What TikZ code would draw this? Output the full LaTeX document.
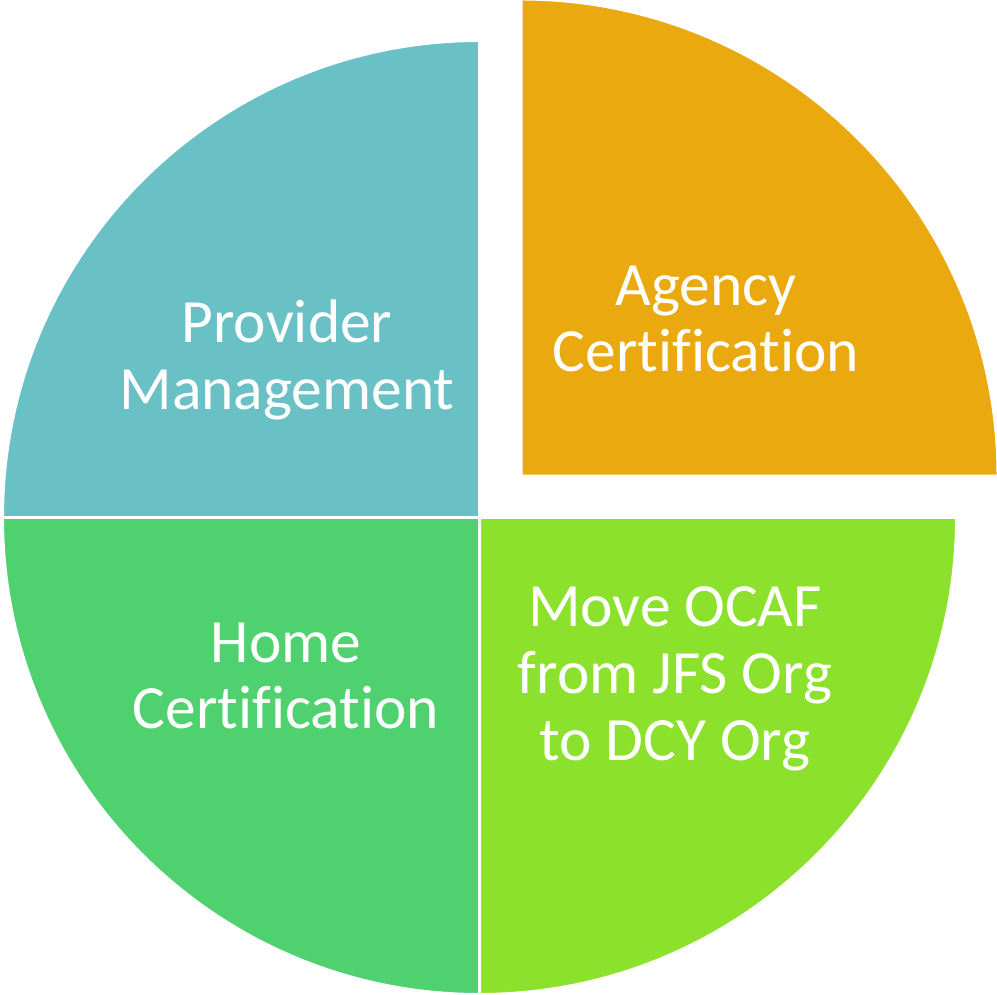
\documentclass[tikz,border=0pt]{standalone}
\usepackage{fontspec}
\setmainfont[Ligatures=NoCommon]{Carlito}
\usetikzlibrary{positioning}

\definecolor{pieteal}{HTML}{69C1C5}
\definecolor{pieorange}{HTML}{E9A90F}
\definecolor{pielime}{HTML}{8CE12D}
\definecolor{piegreen}{HTML}{4ED16E}

\begin{document}
\begin{tikzpicture}[x=0.02cm, y=0.02cm,
    slice/.style={draw=white, line width=1.7pt, line join=miter},
    label/.style={text=white, align=center, font=\fontsize{35}{38}\selectfont}]
			\useasboundingbox (0,0) rectangle (997,994);

			% Draw the pie (centre and radius in pixels)
			\coordinate (C) at (479.5,476.5);
			\coordinate (D) at (521,518);

			\filldraw[slice, fill=pieteal] (C) -- ++(180:477) arc[start angle=180, end angle=90, radius=477] -- cycle;
			\filldraw[slice, fill=piegreen] (C) -- ++(180:477) arc[start angle=180, end angle=270, radius=477] -- cycle;
			\filldraw[slice, fill=pielime] (C) -- ++(270:477) arc[start angle=270, end angle=360, radius=477] -- cycle;

			% Draw the exploded slice
			\filldraw[slice, fill=pieorange] (D) -- ++(0:477) arc[start angle=0, end angle=90, radius=477] -- cycle;

			% Labels
			\node[label] (provider) at (287,634) {Provider\\Management};
			\node[label] (agency) at (706,675) {Agency\\Certification};
			\node[label] (home) at (286,318) {Home\\Certification};
			\node[label] (move) at (675,315) {Move OCAF\\from JFS Org\\to DCY Org};

		\end{tikzpicture}
\end{document}
